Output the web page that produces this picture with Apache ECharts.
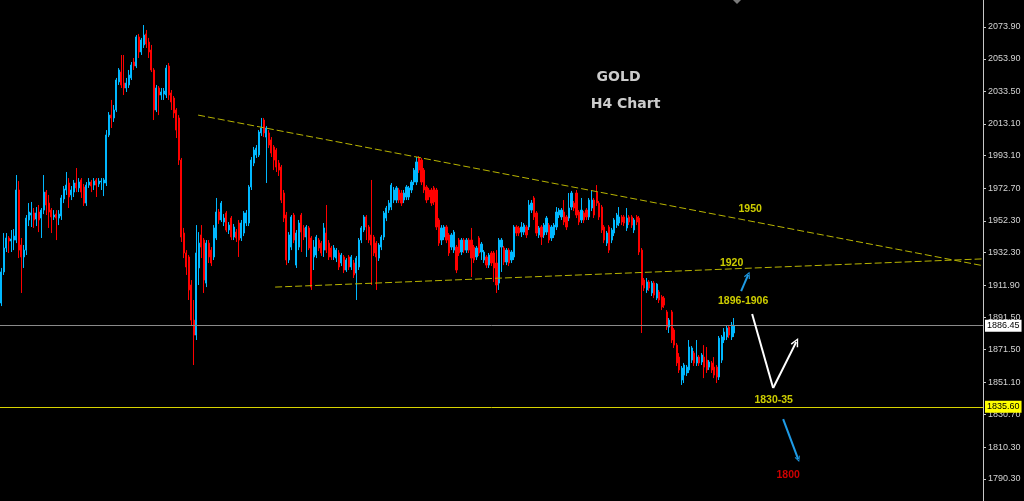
<!DOCTYPE html>
<html>
<head>
<meta charset="utf-8">
<script src="https://cdn.jsdelivr.net/npm/echarts@6/dist/echarts.min.js"></script>
<style>
html,body{margin:0;padding:0;background:#000;}
#chart{width:1024px;height:501px;}
</style>
</head>
<body>
<div id="chart"></div>
<script>
// ---- DATA ----
// Gold H4 candles: [open, close, low, high]
const ohlc = [
[1900.7,1920.2,1898.8,1922.7],[1920.2,1935.2,1918.3,1944.6],[1935.2,1941.5,1932.7,1944.6],[1941.5,1939.6,1932.1,1942.7],
[1939.6,1940.9,1932.7,1946.5],[1940.2,1942.7,1933.9,1947.1],[1940.2,1971.6,1938.3,1981.0],[1971.6,1933.9,1928.9,1977.2],
[1937.1,1929.6,1907.0,1941.5],[1929.6,1933.9,1922.7,1937.1],[1933.9,1954.0,1930.8,1955.9],[1952.8,1957.8,1949.0,1963.4],
[1955.9,1957.2,1948.4,1964.1],[1957.2,1952.8,1947.8,1960.3],[1953.4,1957.2,1949.0,1960.9],[1957.8,1952.8,1945.2,1962.2],
[1954.0,1959.0,1941.5,1960.3],[1959.0,1970.3,1956.5,1981.0],[1970.3,1962.2,1955.9,1971.6],[1963.4,1957.8,1947.8,1968.5],
[1959.0,1954.7,1944.6,1960.3],[1954.7,1955.9,1952.8,1959.0],[1956.5,1954.0,1940.2,1959.0],[1954.0,1956.5,1949.6,1959.0],
[1955.3,1966.6,1952.8,1968.5],[1966.0,1972.2,1963.4,1974.1],[1971.6,1974.7,1968.5,1982.9],[1976.0,1967.2,1960.3,1979.1],
[1968.5,1971.6,1965.3,1974.1],[1970.3,1976.0,1967.2,1977.9],[1976.0,1972.9,1970.3,1985.4],[1972.9,1976.6,1970.3,1979.1],
[1977.9,1970.3,1966.6,1979.1],[1973.5,1963.4,1961.6,1975.4],[1963.4,1974.7,1961.6,1976.6],[1974.7,1976.6,1972.9,1979.1],
[1976.6,1974.1,1970.3,1977.9],[1974.7,1977.2,1971.6,1979.1],[1977.9,1974.7,1967.2,1979.1],[1975.4,1977.2,1973.5,1979.1],
[1976.6,1977.2,1971.6,1979.1],[1976.0,1977.9,1967.8,1979.1],
[1976.0,2006.1,1974.1,2009.2],[2006.1,2018.6,2004.8,2020.5],[2018.6,2016.8,2010.5,2028.1],[2016.8,2021.8,2014.3,2024.9],
[2021.8,2040.6,2020.5,2041.9],[2039.4,2046.9,2037.5,2048.1],[2045.6,2037.5,2035.6,2056.3],[2038.7,2035.6,2031.2,2056.3],
[2035.6,2038.7,2033.1,2041.9],[2037.5,2043.7,2035.6,2046.9],[2041.9,2050.0,2040.6,2051.9],[2051.9,2049.4,2046.9,2054.4],
[2049.4,2067.6,2048.1,2068.8],[2067.6,2058.2,2054.4,2069.5],[2058.2,2065.7,2056.3,2067.0],[2062.6,2068.8,2060.7,2075.1],
[2069.5,2063.2,2060.7,2072.0],[2064.4,2058.2,2054.4,2067.0],[2059.4,2046.9,2045.6,2062.6],[2046.9,2021.8,2015.5,2048.1],
[2021.8,2035.6,2020.5,2037.5],[2035.6,2031.2,2018.6,2036.8],[2031.2,2033.1,2028.1,2035.6],[2031.8,2033.7,2028.1,2035.6],
[2031.2,2048.1,2029.3,2050.0],[2049.4,2031.2,2028.1,2051.3],[2032.5,2026.8,2021.8,2034.3],[2029.3,2019.9,2016.8,2030.6],
[2021.8,2009.2,2004.2,2023.0],[2016.8,1990.4,1987.3,2018.6],[1990.4,1942.1,1939.0,1991.7],[1944.6,1932.1,1928.9,1947.8],
[1932.1,1923.3,1918.3,1933.9],[1929.6,1908.9,1902.6,1930.8],[1912.0,1890.0,1886.9,1915.1],[1890.0,1880.6,1861.8,1902.6],
[1880.6,1932.1,1877.5,1949.6],[1922.7,1938.3,1912.0,1945.2],
[1943.4,1935.8,1928.9,1949.6],[1940.2,1915.1,1907.0,1941.5],[1913.2,1938.3,1910.7,1940.2],[1938.3,1929.6,1925.8,1940.2],
[1933.9,1925.8,1923.9,1935.8],[1929.6,1947.8,1927.7,1949.6],[1941.5,1957.8,1940.2,1966.6],[1957.8,1952.8,1950.3,1959.7],
[1952.8,1963.4,1951.5,1964.7],[1951.5,1954.0,1949.0,1956.5],[1957.2,1946.5,1945.2,1958.4],[1946.5,1949.6,1944.0,1951.5],
[1954.0,1942.1,1940.2,1955.3],[1942.1,1948.4,1940.2,1950.3],[1945.2,1941.5,1939.0,1947.1],[1950.9,1940.2,1929.6,1952.8],
[1941.5,1950.9,1939.6,1952.8],[1944.6,1957.2,1942.7,1958.4],[1950.9,1957.2,1949.0,1959.0],[1950.9,1973.5,1949.0,1974.7],
[1973.5,1990.4,1971.6,1992.3],[1988.5,1996.7,1986.6,1998.6],[1993.6,1997.9,1991.7,1999.8],[1993.6,2008.0,1992.3,2009.2],
[2007.4,2010.5,2005.5,2016.8],[2015.5,2007.4,2004.8,2016.8],[2004.8,2010.5,1976.0,2011.7],[2007.4,1999.8,1997.9,2009.2],
[2003.0,1994.8,1992.3,2004.8],[1998.6,1990.4,1984.1,1999.8],[1996.7,1986.0,1982.9,1997.9],[1988.5,1984.1,1980.4,1990.4],
[1986.0,1965.3,1963.4,1987.3],[1969.7,1954.0,1951.5,1971.6],[1955.9,1927.7,1924.5,1957.8],[1927.7,1943.4,1925.8,1945.2],
[1935.8,1954.7,1933.9,1955.9],[1955.9,1940.2,1938.3,1957.2],[1924.5,1944.6,1922.7,1946.5],[1935.8,1950.9,1933.9,1952.8],
[1955.9,1945.2,1932.7,1957.2],[1947.8,1942.1,1940.2,1949.6],[1942.1,1948.4,1929.6,1949.6],[1947.8,1935.2,1933.9,1949.0],
[1941.5,1910.7,1908.9,1942.7],[1929.6,1935.8,1921.4,1940.2],[1930.8,1942.1,1928.9,1943.4],[1940.2,1935.2,1933.3,1941.5],
[1938.3,1932.1,1930.2,1939.6],[1933.9,1947.8,1929.6,1950.9],[1944.6,1933.9,1932.1,1962.2],[1938.3,1929.6,1927.7,1940.2],
[1935.2,1929.6,1927.7,1936.5],[1929.6,1935.2,1927.7,1937.1],[1928.9,1933.9,1926.4,1935.2],[1932.1,1923.3,1921.4,1933.9],
[1925.8,1930.8,1923.9,1932.1],[1929.6,1921.4,1919.5,1930.8],[1921.4,1927.7,1920.2,1928.9],[1929.6,1923.3,1921.4,1930.8],
[1923.3,1929.6,1921.4,1930.8],[1925.8,1918.3,1916.4,1927.7],[1919.5,1928.9,1902.6,1930.2],[1923.3,1940.2,1921.4,1941.5],
[1940.2,1947.8,1938.3,1949.0],[1946.5,1954.7,1945.2,1955.9],[1954.7,1948.4,1940.2,1955.9],[1948.4,1940.2,1938.3,1949.6],
[1943.4,1937.1,1912.0,1977.9],[1942.1,1932.1,1930.2,1943.4],[1938.3,1929.6,1908.9,1939.6],[1928.9,1937.1,1927.1,1938.3],
[1935.8,1942.1,1933.9,1943.4],[1942.1,1957.2,1940.2,1958.4],[1954.0,1960.3,1952.1,1961.6],[1959.0,1963.4,1957.2,1965.3],
[1960.9,1974.7,1959.0,1976.0],[1965.3,1971.6,1963.4,1973.5],[1965.3,1972.9,1963.4,1974.1],[1971.6,1965.3,1963.4,1972.9],
[1969.7,1963.4,1961.6,1971.6],[1965.3,1969.7,1963.4,1971.6],[1967.2,1973.5,1965.3,1974.7],[1967.2,1972.9,1965.3,1974.1],
[1971.6,1976.6,1969.7,1977.9],[1976.6,1984.1,1974.7,1985.4],[1976.6,1989.2,1974.7,1992.3],[1991.7,1984.1,1982.3,1992.9],
[1990.4,1976.6,1974.7,1991.7],[1984.1,1971.6,1969.7,1985.4],[1973.5,1965.3,1963.4,1974.7],[1971.6,1967.2,1965.3,1972.9],
[1971.6,1963.4,1961.6,1972.9],[1972.9,1964.1,1962.2,1974.1],[1971.6,1948.4,1946.5,1972.9],[1952.8,1938.3,1936.5,1954.0],
[1940.2,1947.8,1937.1,1949.6],[1942.1,1948.4,1940.2,1949.6],[1948.4,1940.2,1938.3,1949.6],[1943.4,1932.1,1930.2,1944.6],
[1935.8,1943.4,1933.9,1944.6],[1933.9,1945.2,1932.1,1946.5],[1935.8,1921.4,1919.5,1937.1],[1940.2,1932.1,1930.2,1941.5],
[1932.7,1940.2,1930.8,1941.5],[1940.2,1933.9,1932.1,1941.5],[1933.9,1940.2,1932.1,1941.5],[1940.2,1933.9,1932.1,1941.5],
[1940.2,1928.9,1917.0,1947.8],[1935.8,1927.7,1925.8,1937.1],[1929.6,1935.2,1927.7,1936.5],[1941.5,1932.1,1930.2,1942.7],
[1932.7,1937.7,1927.7,1939.0],[1927.7,1932.7,1925.8,1933.9],[1929.6,1924.5,1922.7,1930.8],[1924.5,1930.8,1922.7,1932.1],
[1932.1,1925.8,1923.9,1933.3],[1932.1,1922.7,1913.9,1933.3],[1925.8,1912.0,1907.0,1933.9],[1913.2,1940.2,1908.9,1941.5],
[1935.8,1940.2,1920.2,1941.5],[1935.2,1926.4,1924.5,1936.5],[1926.4,1933.9,1924.5,1935.2],[1933.9,1925.8,1923.9,1935.2],
[1927.7,1932.7,1925.8,1933.9],[1929.6,1948.4,1927.7,1949.6],[1948.4,1944.6,1942.7,1949.6],[1947.8,1944.6,1942.7,1949.0],
[1945.2,1948.4,1942.1,1951.5],[1945.2,1949.6,1943.4,1950.9],[1948.4,1943.4,1941.5,1949.6],[1948.4,1962.2,1946.5,1965.3],
[1959.0,1963.4,1957.2,1965.3],[1966.6,1954.7,1952.8,1967.8],[1957.2,1944.6,1942.7,1958.4],[1943.4,1947.8,1941.5,1949.0],
[1948.4,1942.1,1937.1,1949.6],[1943.4,1949.6,1941.5,1950.9],[1945.2,1954.0,1943.4,1955.3],[1949.6,1940.2,1938.3,1950.9],
[1941.5,1948.4,1939.6,1949.6],[1943.4,1949.6,1941.5,1950.9],[1948.4,1957.8,1946.5,1960.9],[1955.9,1959.0,1954.0,1960.3],
[1954.7,1959.0,1952.8,1960.3],[1957.8,1951.5,1949.6,1965.3],[1954.7,1948.4,1946.5,1955.9],[1954.0,1960.3,1952.1,1969.7],
[1960.9,1969.7,1959.0,1971.0],[1963.4,1960.3,1958.4,1964.7],[1969.7,1955.9,1954.0,1971.6],[1957.8,1951.5,1949.6,1959.0],
[1952.8,1959.0,1950.9,1966.6],[1957.2,1952.8,1950.9,1958.4],[1959.0,1954.7,1952.8,1960.3],[1954.7,1965.3,1952.8,1966.6],
[1960.3,1965.3,1958.4,1971.6],[1965.3,1955.9,1954.0,1966.6],[1970.3,1963.4,1961.6,1974.7],[1963.4,1954.7,1952.8,1964.7],
[1960.9,1946.5,1944.6,1962.2],[1948.4,1940.2,1938.3,1949.6],[1938.3,1944.6,1936.5,1945.9],[1948.4,1933.9,1932.1,1949.6],
[1940.2,1946.5,1938.3,1947.8],[1944.6,1952.8,1942.7,1954.0],[1949.6,1955.9,1947.8,1957.2],[1950.9,1954.7,1949.0,1960.9],
[1954.7,1951.5,1949.6,1955.9],[1954.7,1950.9,1949.0,1955.9],[1947.8,1954.0,1945.9,1960.3],[1954.7,1951.5,1949.6,1955.9],
[1954.7,1949.6,1947.8,1955.9],[1946.5,1952.8,1944.6,1954.0],[1954.7,1951.5,1949.6,1955.9],[1954.0,1932.7,1930.8,1955.3],
[1933.9,1912.0,1881.9,1935.2],[1915.1,1910.1,1908.2,1916.4],[1908.9,1913.9,1907.0,1916.4],[1913.9,1910.1,1908.2,1915.1],
[1907.0,1913.2,1905.1,1914.5],[1913.2,1905.7,1903.8,1914.5],[1903.8,1912.6,1902.6,1913.2],[1907.6,1902.6,1900.7,1908.9],
[1904.5,1898.2,1896.3,1905.7],[1903.8,1899.4,1897.6,1905.1],[1895.1,1885.6,1883.8,1896.3],[1885.6,1890.0,1881.9,1891.3],
[1895.1,1877.5,1875.6,1896.3],[1883.8,1874.3,1872.5,1885.0],[1874.3,1863.1,1861.2,1875.6],[1866.8,1858.7,1856.8,1869.3],
[1852.4,1859.9,1849.3,1861.2],[1855.5,1861.8,1850.5,1863.1],[1856.8,1860.5,1854.9,1861.8],[1858.7,1873.1,1856.8,1877.5],
[1864.9,1872.5,1863.1,1873.7],[1869.3,1863.1,1861.2,1870.6],[1863.1,1866.8,1861.2,1877.5],[1866.8,1863.1,1861.2,1868.1],
[1863.7,1868.1,1861.8,1869.3],[1866.8,1860.5,1853.6,1874.3],[1864.9,1858.7,1856.8,1873.1],[1860.5,1863.7,1858.7,1864.9],
[1863.1,1858.7,1856.8,1864.3],[1860.5,1855.5,1853.6,1866.8],[1860.5,1854.3,1850.5,1861.8],[1854.3,1878.7,1852.4,1880.0],
[1864.9,1879.4,1863.1,1880.6],[1877.5,1882.5,1875.6,1885.0],[1879.4,1885.0,1877.5,1886.3],[1885.6,1880.6,1878.7,1886.9],
[1879.4,1886.9,1877.5,1888.8],[1881.9,1886.45,1879.4,1891.3]
];
// bar slots on the time axis (traded bars plus the empty right-hand shift area)
const totalSlots = 393;
const categories = Array.from({length: totalSlots}, (_, i) => 'H4 #' + (i + 1));

// right price scale tick labels
const yTicks = [1790.30, 1810.30, 1830.70, 1851.10, 1871.50, 1891.50, 1911.90, 1932.30,
                1952.30, 1972.70, 1993.10, 2013.10, 2033.50, 2053.90, 2073.90];
const yMin = 1776.5, yMax = 2090.8;

const currentPrice = 1886.45;
const supportLevel = 1835.60;

// trendlines: [barIndex, price]
const upperTrend = [[78.7, 2018.6], [392.5, 1924.1]];
const lowerTrend = [[109.5, 1910.7], [392.5, 1928.4]];

// forecast arrows: [barIndex, price]
const arrowUpSmall = [[295.8, 1908.2], [298.6, 1918.3]];
const zigzag = [[300.2, 1893.8], [308.6, 1847.4], [317.8, 1876.2]];
const arrowDown = [[312.6, 1827.9], [318.6, 1802.8]];

// text annotations
const noteTexts = ['GOLD', 'H4 Chart', '1950', '1920', '1896-1906', '1830-35', '1800'];
const notePos = [[246.8, 2042.5], [249.6, 2025.5], [299.4, 1959.7], [292.0, 1925.8],
                 [296.6, 1901.9], [308.8, 1839.5], [314.6, 1792.5]];
const noteColors = ['#ffffff', '#ffffff', '#ffff00', '#ffff00', '#ffff00', '#ffff00', '#ff0000'];

// ---- CHART ----
const chevron = 'path://M0,10 L5,0 L10,10 L8.4,10.9 L5,3.2 L1.6,10.9 Z';
const chart = echarts.init(document.getElementById('chart'), null, {renderer: 'canvas'});

const noteData = noteTexts.map((t, i) => {
  const big = i < 2;
  return {
    value: notePos[i],
    label: {
      show: true, position: 'inside', formatter: t,
      color: noteColors[i],
      fontFamily: big ? 'DejaVu Sans' : 'Liberation Sans',
      fontWeight: 'bold',
      fontSize: big ? 14 : 10.5
    }
  };
});

const option = {
  backgroundColor: '#000000',
  animation: false,
  grid: {left: 0, right: 41, top: 0, bottom: 0, containLabel: false},
  xAxis: [
    {type: 'category', data: categories, boundaryGap: true, show: false},
    {type: 'value', min: -0.5, max: totalSlots - 0.5, show: false}
  ],
  yAxis: {
    type: 'value', position: 'right', min: yMin, max: yMax, scale: true,
    axisLine: {show: true, onZero: false, lineStyle: {color: '#c8c8c8', width: 1}},
    axisTick: {show: true, length: 3, inside: false, lineStyle: {color: '#c8c8c8'}, customValues: yTicks},
    axisLabel: {show: true, color: '#d4d4d4', fontFamily: 'Liberation Sans', fontSize: 9, margin: 5,
      customValues: yTicks, formatter: v => v.toFixed(2)},
    splitLine: {show: false}
  },
  series: [
    {
      type: 'candlestick', xAxisIndex: 0, yAxisIndex: 0,
      data: ohlc, barWidth: 1.6,
      itemStyle: {color: '#00b8ff', color0: '#ff0000', borderColor: '#00b8ff', borderColor0: '#ff0000', borderWidth: 1},
      silent: true,
      markLine: {
        silent: true, symbol: 'none', animation: false,
        data: [
          {yAxis: currentPrice, lineStyle: {color: '#8a8a8a', width: 1, type: 'solid'},
           label: {show: true, position: 'end', distance: 2, formatter: currentPrice.toFixed(2),
             backgroundColor: '#ffffff', color: '#000000', padding: [2, 2, 1, 2],
             fontFamily: 'Liberation Sans', fontSize: 9}},
          {yAxis: supportLevel, lineStyle: {color: '#d8d400', width: 1, type: 'solid'},
           label: {show: true, position: 'end', distance: 2, formatter: supportLevel.toFixed(2),
             backgroundColor: '#ffff00', color: '#000000', padding: [2, 2, 1, 2],
             fontFamily: 'Liberation Sans', fontSize: 9}}
        ]
      }
    },
    {
      type: 'line', xAxisIndex: 1, yAxisIndex: 0, data: upperTrend, showSymbol: false, silent: true,
      lineStyle: {color: '#b8b400', width: 1, type: [7, 3]}
    },
    {
      type: 'line', xAxisIndex: 1, yAxisIndex: 0, data: lowerTrend, showSymbol: false, silent: true,
      lineStyle: {color: '#b8b400', width: 1, type: [7, 3]}
    },
    {
      type: 'scatter', xAxisIndex: 1, yAxisIndex: 0, data: noteData, symbolSize: 1,
      itemStyle: {color: 'rgba(0,0,0,0)'}, silent: true, z: 10,
      markLine: {
        silent: true, animation: false, label: {show: false}, symbolKeepAspect: true,
        data: [
          [{coord: arrowUpSmall[0], symbol: 'none', lineStyle: {color: '#1e9be6', width: 2, type: 'solid'}},
           {coord: arrowUpSmall[1], symbol: chevron, symbolSize: [7, 7]}],
          [{coord: zigzag[0], symbol: 'none', lineStyle: {color: '#ffffff', width: 2, type: 'solid'}},
           {coord: zigzag[1], symbol: 'none'}],
          [{coord: zigzag[1], symbol: 'none', lineStyle: {color: '#ffffff', width: 2, type: 'solid'}},
           {coord: zigzag[2], symbol: chevron, symbolSize: [10, 9]}],
          [{coord: arrowDown[0], symbol: 'none', lineStyle: {color: '#1e9be6', width: 2, type: 'solid'}},
           {coord: arrowDown[1], symbol: chevron, symbolSize: [6, 6]}]
        ]
      }
    }
  ],
  graphic: [
    {type: 'polygon', shape: {points: [[733, 0], [741, 0], [737, 4]]}, style: {fill: '#7a7a7a'}, silent: true}
  ]
};
chart.setOption(option);
</script>
</body>
</html>
